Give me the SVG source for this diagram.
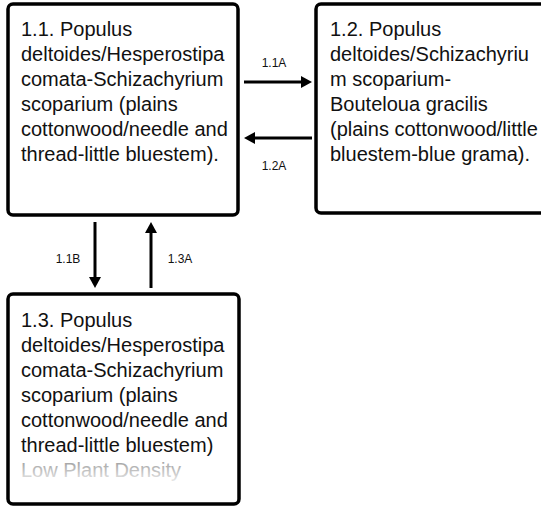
<svg xmlns="http://www.w3.org/2000/svg" width="541" height="506" viewBox="0 0 541 506">
<style>
.box{fill:#fff;stroke:#000;stroke-width:3.5}
.t{font-family:"Liberation Sans",Arial,sans-serif;font-size:20px;fill:#111}
.lbl{font-family:"Liberation Sans",Arial,sans-serif;font-size:12px;fill:#111;text-anchor:middle}
.conn{stroke:#000;stroke-width:3;fill:none}
</style>
<defs>
<marker id="ah" markerUnits="userSpaceOnUse" markerWidth="11" markerHeight="12" refX="0" refY="6" orient="auto">
<path d="M0,0 L11,6 L0,12 z" fill="#000"/>
</marker>
<linearGradient id="fade" x1="0" y1="0" x2="0" y2="1">
<stop offset="0" stop-color="#999"/>
<stop offset="1" stop-color="#e6e6e6"/>
</linearGradient>
</defs>
<g id="node-1-1">
<rect class="box" x="8" y="4" width="230" height="211" rx="5"/>
<text class="t"><tspan x="21" y="36">1.1. Populus</tspan><tspan x="21" y="61">deltoides/Hesperostipa</tspan><tspan x="21" y="86">comata-Schizachyrium</tspan><tspan x="21" y="111">scoparium (plains</tspan><tspan x="21" y="136">cottonwood/needle and</tspan><tspan x="21" y="161">thread-little bluestem).</tspan></text>
</g>
<g id="node-1-2">
<rect class="box" x="316" y="4" width="240" height="209" rx="5"/>
<text class="t"><tspan x="330" y="36">1.2. Populus</tspan><tspan x="330" y="61">deltoides/Schizachyriu</tspan><tspan x="330" y="86">m scoparium-</tspan><tspan x="330" y="111">Bouteloua gracilis</tspan><tspan x="330" y="136">(plains cottonwood/little</tspan><tspan x="330" y="161">bluestem-blue grama).</tspan></text>
</g>
<g id="node-1-3">
<rect class="box" x="8" y="294" width="231" height="210" rx="5"/>
<text class="t"><tspan x="21" y="327">1.3. Populus</tspan><tspan x="21" y="352">deltoides/Hesperostipa</tspan><tspan x="21" y="377">comata-Schizachyrium</tspan><tspan x="21" y="402">scoparium (plains</tspan><tspan x="21" y="427">cottonwood/needle and</tspan><tspan x="21" y="452">thread-little bluestem)</tspan></text>
<text class="t" x="21" y="477" style="fill:url(#fade)">Low Plant Density</text>
</g>
<g id="connectors">
<line class="conn" x1="244" y1="82" x2="301" y2="82" marker-end="url(#ah)"/>
<line class="conn" x1="312" y1="138" x2="255" y2="138" marker-end="url(#ah)"/>
<line class="conn" x1="95" y1="222" x2="95" y2="277" marker-end="url(#ah)"/>
<line class="conn" x1="151" y1="288" x2="151" y2="233" marker-end="url(#ah)"/>
<text class="lbl" x="274" y="67">1.1A</text>
<text class="lbl" x="274" y="170">1.2A</text>
<text class="lbl" x="68" y="263">1.1B</text>
<text class="lbl" x="180" y="263">1.3A</text>
</g>
</svg>
